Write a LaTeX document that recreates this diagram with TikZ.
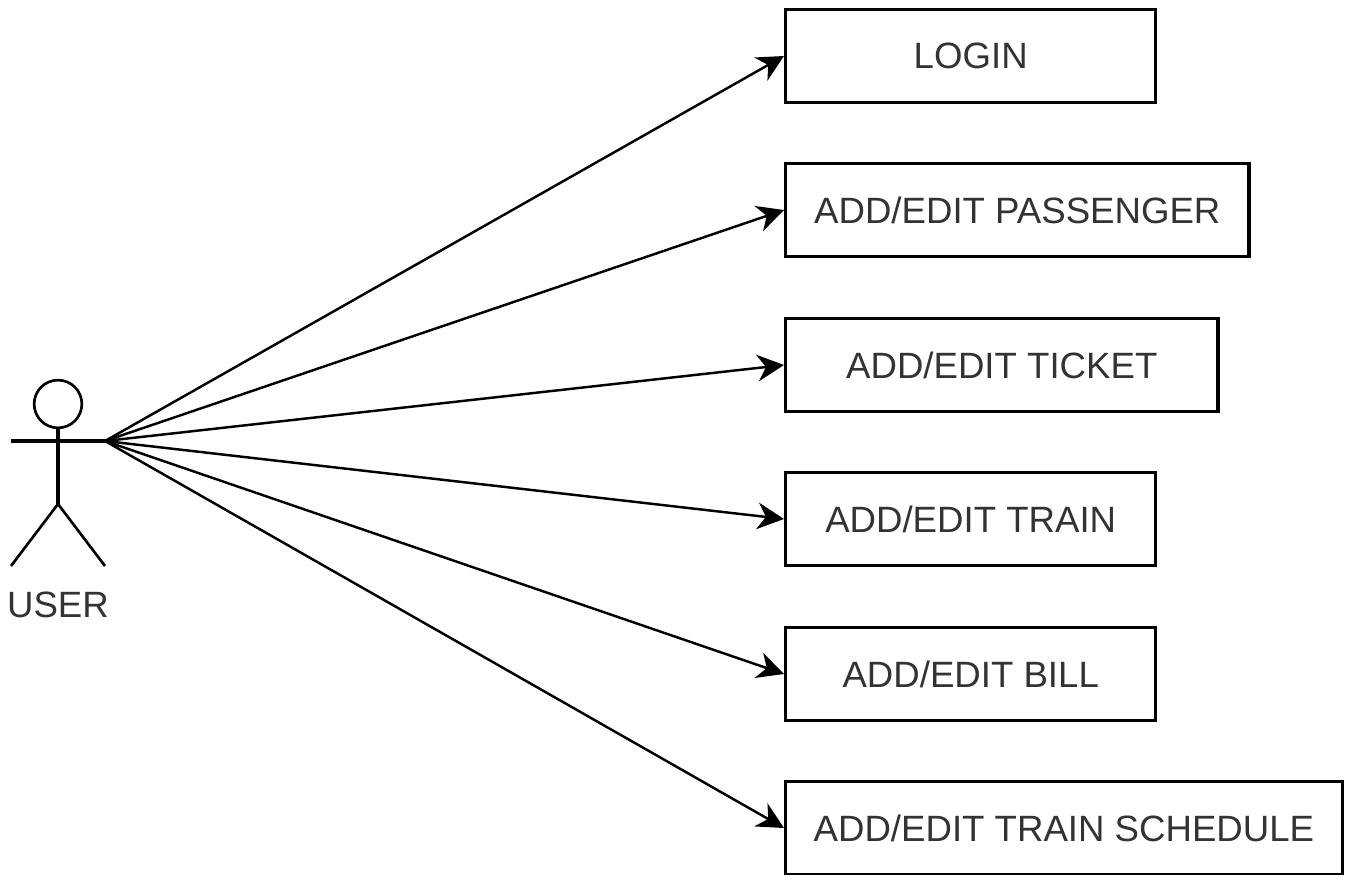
\documentclass[tikz,border=0pt]{standalone}
\usepackage{fontspec}
\setmainfont{Liberation Sans}
\usetikzlibrary{positioning,calc,arrows.meta}
\tikzset{
    usebox/.style={draw, line width=0.87mm, minimum height=2.44cm, anchor=west, font=\fontsize{27.5}{32}\selectfont, text=black!80, inner sep=0pt},
    limb/.style={line width=0.7mm},
    trunk/.style={line width=0.95mm},
    flow/.style={line width=0.65mm, -{Stealth[length=7mm,width=7mm,inset=2.2mm]}}
}
\begin{document}
\begin{tikzpicture}[x=0.0264cm,y=-0.0264cm]
    \useasboundingbox (0,0) rectangle (1346,875);
    % Actor
    \node[draw, circle, limb, minimum size=1.26cm, inner sep=0pt] (head) at (58,404) {};
    \coordinate (hip) at (58,504);
    \coordinate (armL) at (11,441);
    \coordinate (armR) at (105,441);
    \coordinate (footL) at (11,566);
    \coordinate (footR) at (105,566);
    \draw[trunk] (head.south) -- (hip);
    \draw[trunk] (armL) -- (armR);
    \draw[limb] (footL) -- (hip) -- (footR);
    \node[font=\fontsize{27.5}{32}\selectfont, text=black!80] (user) at (58,605) {USER};
    % Use cases
    \node[usebox, minimum width=9.77cm] (login) at (784,56) {LOGIN};
    \node[usebox, minimum width=12.23cm] (passenger) at (784,210) {ADD/EDIT PASSENGER};
    \node[usebox, minimum width=11.41cm] (ticket) at (784,365) {ADD/EDIT TICKET};
    \node[usebox, minimum width=9.77cm] (train) at (784,519) {ADD/EDIT TRAIN};
    \node[usebox, minimum width=9.77cm] (bill) at (784,674) {ADD/EDIT BILL};
    \node[usebox, minimum width=14.69cm] (schedule) at (784,828) {ADD/EDIT TRAIN SCHEDULE};
    % Arrows
    \draw[flow] (armR) -- (login.west);
    \draw[flow] (armR) -- (passenger.west);
    \draw[flow] (armR) -- (ticket.west);
    \draw[flow] (armR) -- (train.west);
    \draw[flow] (armR) -- (bill.west);
    \draw[flow] (armR) -- (schedule.west);
\end{tikzpicture}
\end{document}
